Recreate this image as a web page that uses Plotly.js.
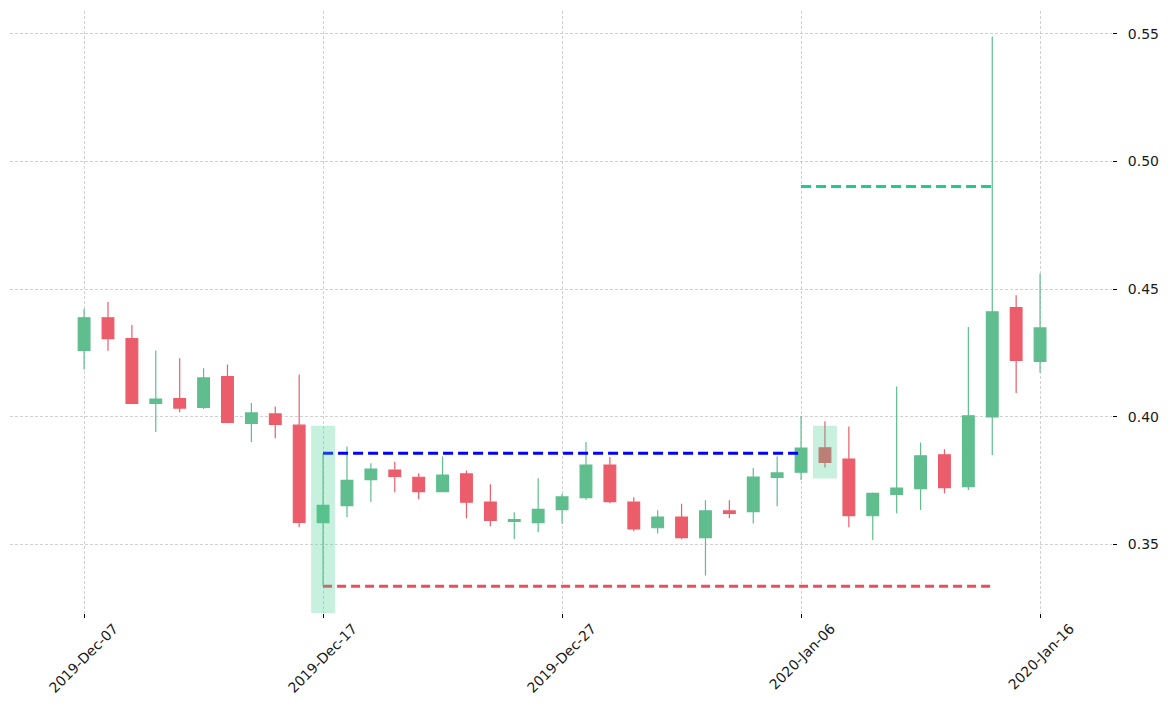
<!DOCTYPE html>
<html>
<head>
<meta charset="utf-8">
<script src="https://cdn.plot.ly/plotly-3.0.1.min.js"></script>
<style>
  html, body { margin: 0; padding: 0; background: #fff; }
  #chart { width: 1170px; height: 706px; }
</style>
</head>
<body>
<div id="chart"></div>
<script>
const dates = [
  '2019-12-07', '2019-12-08', '2019-12-09', '2019-12-10', '2019-12-11', '2019-12-12',
  '2019-12-13', '2019-12-14', '2019-12-15', '2019-12-16', '2019-12-17', '2019-12-18',
  '2019-12-19', '2019-12-20', '2019-12-21', '2019-12-22', '2019-12-23', '2019-12-24',
  '2019-12-25', '2019-12-26', '2019-12-27', '2019-12-28', '2019-12-29', '2019-12-30',
  '2019-12-31', '2020-01-01', '2020-01-02', '2020-01-03', '2020-01-04', '2020-01-05',
  '2020-01-06', '2020-01-07', '2020-01-08', '2020-01-09', '2020-01-10', '2020-01-11',
  '2020-01-12', '2020-01-13', '2020-01-14', '2020-01-15', '2020-01-16'
];
const openVals = [
  0.4260, 0.4388, 0.4306, 0.4052, 0.4071, 0.4037, 0.4157, 0.3974, 0.4011, 0.3967, 0.3585,
  0.3652, 0.3754, 0.3791, 0.3763, 0.3707, 0.3776, 0.3666, 0.3590, 0.3585, 0.3636, 0.3683,
  0.3811, 0.3666, 0.3565, 0.3607, 0.3526, 0.3631, 0.3628, 0.3762, 0.3783, 0.3878, 0.3834,
  0.3612, 0.3696, 0.3718, 0.3851, 0.3726, 0.3999, 0.4428, 0.4217
];
const highVals = [
  0.4423, 0.4450, 0.4360, 0.4260, 0.4229, 0.4190, 0.4205, 0.4054, 0.4040, 0.4166, 0.3857,
  0.3883, 0.3818, 0.3824, 0.3779, 0.3844, 0.3789, 0.3736, 0.3626, 0.3759, 0.3698, 0.3901,
  0.3842, 0.3685, 0.3634, 0.3659, 0.3673, 0.3673, 0.3799, 0.3844, 0.4002, 0.3982, 0.3962,
  0.3703, 0.4119, 0.3899, 0.3873, 0.4352, 0.5490, 0.4476, 0.4560
];
const lowVals = [
  0.4185, 0.4259, 0.4050, 0.3940, 0.4018, 0.4030, 0.3975, 0.3901, 0.3916, 0.3567, 0.3336,
  0.3606, 0.3666, 0.3704, 0.3677, 0.3704, 0.3602, 0.3571, 0.3521, 0.3547, 0.3581, 0.3675,
  0.3661, 0.3551, 0.3543, 0.3520, 0.3378, 0.3602, 0.3582, 0.3649, 0.3752, 0.3801, 0.3567,
  0.3517, 0.3622, 0.3635, 0.3700, 0.3713, 0.3850, 0.4093, 0.4172
];
const closeVals = [
  0.4388, 0.4306, 0.4052, 0.4069, 0.4034, 0.4152, 0.3978, 0.4015, 0.3970, 0.3586, 0.3653,
  0.3751, 0.3795, 0.3766, 0.3707, 0.3771, 0.3665, 0.3594, 0.3597, 0.3637, 0.3686, 0.3811,
  0.3667, 0.3561, 0.3607, 0.3526, 0.3631, 0.3621, 0.3764, 0.3780, 0.3877, 0.3821, 0.3612,
  0.3700, 0.3720, 0.3847, 0.3722, 0.4004, 0.4411, 0.4221, 0.4348
];

// horizontal levels: [start, end], value
const resistanceDates = ['2019-12-17', '2020-01-06'];
const resistanceLevel = 0.3857;
const supportDates = ['2019-12-17', '2020-01-14'];
const supportLevel = 0.3336;
const targetDates = ['2020-01-06', '2020-01-14'];
const targetLevel = 0.4902;

// highlighted candles: x span and y span
const highlightStart = ['2019-12-16 12:00', '2020-01-06 12:00'];
const highlightEnd = ['2019-12-17 12:00', '2020-01-07 12:00'];
const highlightTop = [0.3965, 0.3965];
const highlightBottom = [0.3231, 0.3758];

const tickDates = ['2019-12-07', '2019-12-17', '2019-12-27', '2020-01-06', '2020-01-16'];
const tickLabels = ['2019-Dec-07', '2019-Dec-17', '2019-Dec-27', '2020-Jan-06', '2020-Jan-16'];

const green = '#5fbd8e';
const red = '#ec5d6b';

const candles = {
  type: 'candlestick',
  x: dates,
  open: openVals,
  high: highVals,
  low: lowVals,
  close: closeVals,
  increasing: { line: { color: green, width: 1.2 }, fillcolor: green },
  decreasing: { line: { color: red, width: 1.2 }, fillcolor: red },
  whiskerwidth: 0,
  hoverinfo: 'skip',
};

function levelLine(xs, level, color, dash) {
  return {
    type: 'scatter',
    mode: 'lines',
    x: xs,
    y: xs.map(() => level),
    line: { color: color, width: 3, dash: dash },
    hoverinfo: 'skip',
  };
}

const data = [
  candles,
  levelLine(resistanceDates, resistanceLevel, '#0000ff', '10px,5px'),
  levelLine(supportDates, supportLevel, '#e5505c', '9px,5px'),
  levelLine(targetDates, targetLevel, '#20cc8c', '10px,5px'),
];

const shapes = highlightStart.map((s, i) => ({
  type: 'rect',
  xref: 'x',
  yref: 'y',
  x0: s,
  x1: highlightEnd[i],
  y0: highlightBottom[i],
  y1: highlightTop[i],
  fillcolor: 'rgba(72,205,145,0.3)',
  line: { width: 0 },
  layer: 'above',
}));

const font = { family: 'DejaVu Sans, sans-serif', size: 14, color: '#1a1a1a' };

const layout = {
  width: 1170,
  height: 706,
  margin: { l: 10, r: 58, t: 11, b: 93 },
  paper_bgcolor: '#fff',
  plot_bgcolor: '#fff',
  showlegend: false,
  font: font,
  shapes: shapes,
  xaxis: {
    type: 'date',
    range: ['2019-12-03 21:36', '2020-01-19 00:15'],
    tickvals: tickDates,
    ticktext: tickLabels,
    tickangle: -45,
    ticks: 'outside',
    ticklen: 4,
    tickcolor: '#000',
    ticklabelshift: 30,
    ticklabelstandoff: -3,
    showgrid: true,
    gridcolor: '#bdbdbd',
    gridwidth: 0.7,
    griddash: '3px,2px',
    showline: false,
    zeroline: false,
    rangeslider: { visible: false },
    tickfont: font,
  },
  yaxis: {
    side: 'right',
    range: [0.3231, 0.5590],
    tickvals: [0.35, 0.40, 0.45, 0.50, 0.55],
    ticktext: ['0.35', '0.40', '0.45', '0.50', '0.55'],
    ticks: 'outside',
    ticklen: 4,
    tickcolor: '#000',
    ticklabelstandoff: 8,
    showgrid: true,
    gridcolor: '#bdbdbd',
    gridwidth: 0.7,
    griddash: '3px,2px',
    showline: false,
    zeroline: false,
    tickfont: font,
  },
};

Plotly.newPlot('chart', data, layout, { displayModeBar: false, staticPlot: true });
</script>
</body>
</html>
